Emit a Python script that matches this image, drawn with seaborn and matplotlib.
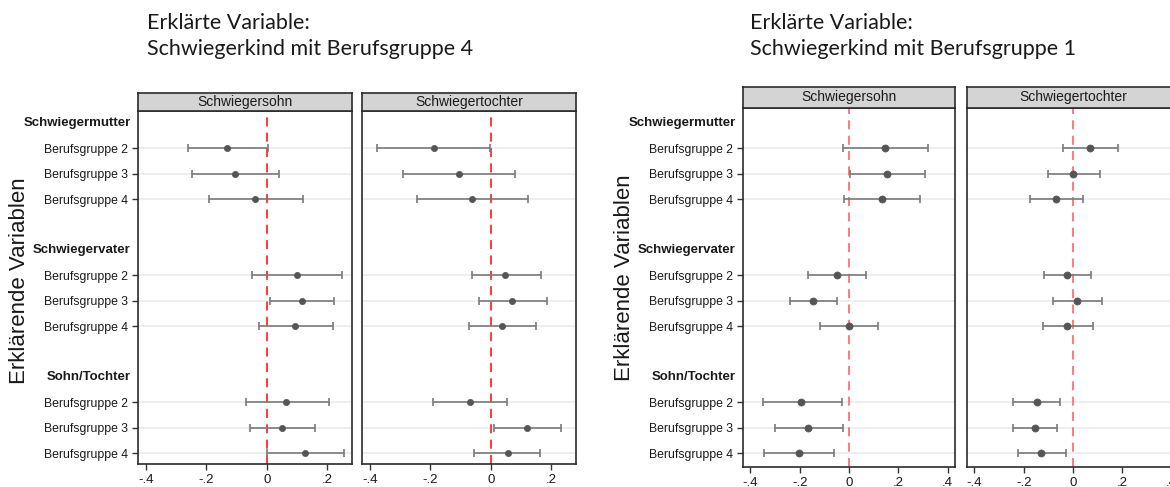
import matplotlib
matplotlib.use("Agg")
import matplotlib.pyplot as plt
import numpy as np
import pandas as pd
import seaborn as sns

sns.set_theme(style="white")
plt.rcParams["font.family"] = ["Liberation Sans", "DejaVu Sans"]

# ---- data -------------------------------------------------------------
groups = ["Schwiegermutter", "Schwiegervater", "Sohn/Tochter"]
items = ["Berufsgruppe 2", "Berufsgruppe 3", "Berufsgruppe 4"]
panels = ["Schwiegersohn", "Schwiegertochter"]
titles = ["Erklärte Variable:\nSchwiegerkind mit Berufsgruppe 4",
          "Erklärte Variable:\nSchwiegerkind mit Berufsgruppe 1"]
ylabel = "Erklärende Variablen"
xticks = [-0.4, -0.2, 0.0, 0.2, 0.4]
xticklabels = ["-.4", "-.2", "0", ".2", ".4"]

# Berufsgruppe 4 model
bg4_sohn_est = [-0.131, -0.105, -0.039, 0.099, 0.116, 0.093, 0.063, 0.051, 0.126]
bg4_sohn_lo = [-0.262, -0.246, -0.193, -0.048, 0.011, -0.026, -0.070, -0.055, 0.000]
bg4_sohn_hi = [0.003, 0.039, 0.118, 0.247, 0.222, 0.219, 0.205, 0.160, 0.255]
bg4_tochter_est = [-0.189, -0.105, -0.063, 0.048, 0.070, 0.037, -0.069, 0.119, 0.055]
bg4_tochter_lo = [-0.376, -0.292, -0.245, -0.063, -0.041, -0.074, -0.191, 0.011, -0.055]
bg4_tochter_hi = [-0.003, 0.081, 0.121, 0.166, 0.185, 0.149, 0.052, 0.231, 0.162]

# Berufsgruppe 1 model
bg1_sohn_est = [0.147, 0.154, 0.132, -0.049, -0.147, -0.001, -0.193, -0.166, -0.204]
bg1_sohn_lo = [-0.023, 0.004, -0.019, -0.167, -0.238, -0.117, -0.350, -0.301, -0.343]
bg1_sohn_hi = [0.321, 0.308, 0.290, 0.069, -0.050, 0.116, -0.027, -0.026, -0.059]
bg1_tochter_est = [0.067, 0.000, -0.070, -0.026, 0.016, -0.026, -0.148, -0.155, -0.128]
bg1_tochter_lo = [-0.040, -0.101, -0.174, -0.116, -0.082, -0.123, -0.243, -0.243, -0.225]
bg1_tochter_hi = [0.182, 0.108, 0.042, 0.071, 0.119, 0.081, -0.054, -0.066, -0.028]

models = [
    [(bg4_sohn_est, bg4_sohn_lo, bg4_sohn_hi),
     (bg4_tochter_est, bg4_tochter_lo, bg4_tochter_hi)],
    [(bg1_sohn_est, bg1_sohn_lo, bg1_sohn_hi),
     (bg1_tochter_est, bg1_tochter_lo, bg1_tochter_hi)],
]

# row layout: header, three items, spacer row, ...
header_rows = [0, 5, 10]
item_rows = [r for h in header_rows for r in (h + 1, h + 2, h + 3)]
item_labels = [it for _ in groups for it in items]

# ---- layout (pixels) --------------------------------------------------
W, H = 1170, 487
fig = plt.figure(figsize=(W / 100, H / 100), dpi=100)

layout = [
    dict(lefts=[138, 362], width=214, top=111, bottom=464, strip=18,
         xlim=(-0.426, 0.281), ylim=(13.43, -0.47), red="#ff2a2a",
         title_x=147, ylab_x=20, ylab_y=281, dot=20),
    dict(lefts=[743, 967], width=212, top=108, bottom=467, strip=21,
         xlim=(-0.430, 0.430), ylim=(13.55, -0.59), red="#ff7070",
         title_x=750, ylab_x=625, ylab_y=278, dot=26),
]


def fx(px):
    return px / W


def fy(py):
    return 1 - py / H


for m, (lay, model) in enumerate(zip(layout, models)):
    fig.text(fx(lay["title_x"]), fy(13), titles[m], ha="left", va="top",
             fontsize=15.5, family=["Lato", "DejaVu Sans"], color="#1a1a1a",
             linespacing=1.35)
    fig.text(fx(lay["ylab_x"]), fy(lay["ylab_y"]), ylabel,
             rotation=90, ha="center", va="center",
             fontsize=16, color="#1a1a1a")

    for p, (left, (est, lo, hi)) in enumerate(zip(lay["lefts"], model)):
        ax = fig.add_axes([fx(left), fy(lay["bottom"]), lay["width"] / W,
                           (lay["bottom"] - lay["top"]) / H])
        df = pd.DataFrame({"row": item_rows, "est": est, "lo": lo, "hi": hi})

        for r in item_rows:
            ax.axhline(r, color="#ebebeb", lw=1.2, zorder=0)
        ax.axvline(0, color=lay["red"], lw=1.3, ls=(0, (5, 3.5)), zorder=1)
        ax.errorbar(df["est"], df["row"],
                    xerr=[df["est"] - df["lo"], df["hi"] - df["est"]],
                    fmt="none", ecolor="#7a7a7a", elinewidth=1.2,
                    capsize=3, capthick=1.2, zorder=2)
        sns.scatterplot(data=df, x="est", y="row", ax=ax, color="#555555",
                        s=lay["dot"], edgecolor="#555555", linewidth=0.5,
                        zorder=3, legend=False)

        ax.set_xticks(xticks)
        ax.set_xticklabels(xticklabels, fontsize=9.5, color="#1a1a1a")
        ax.set_yticks(item_rows)
        ax.set_xlim(*lay["xlim"])
        ax.set_ylim(*lay["ylim"])
        ax.set_xlabel("")
        ax.set_ylabel("")
        if p == 0:
            ax.set_yticklabels(item_labels, fontsize=8.8, color="#1a1a1a")
            for h, g in zip(header_rows, groups):
                ax.text(-0.035, h, g, transform=ax.get_yaxis_transform(),
                        ha="right", va="center", fontsize=9.5,
                        fontweight="bold", color="#1a1a1a")
        else:
            ax.set_yticklabels([])
        ax.tick_params(axis="both", direction="out", length=4, width=1,
                       color="#333333", pad=3, left=(p == 0), bottom=True)
        for s in ax.spines.values():
            s.set_color("#2b2b2b")
            s.set_linewidth(1.2)
            s.set_visible(True)

        # facet strip
        sax = fig.add_axes([fx(left), fy(lay["top"]), lay["width"] / W,
                            lay["strip"] / H])
        sax.set_facecolor("#d4d4d4")
        sax.set_xticks([])
        sax.set_yticks([])
        for s in sax.spines.values():
            s.set_color("#2b2b2b")
            s.set_linewidth(1.2)
        sax.text(0.5, 0.5, panels[p], ha="center", va="center",
                 transform=sax.transAxes, fontsize=10, color="#1a1a1a")

fig.savefig("out.png", dpi=100, facecolor="white")
